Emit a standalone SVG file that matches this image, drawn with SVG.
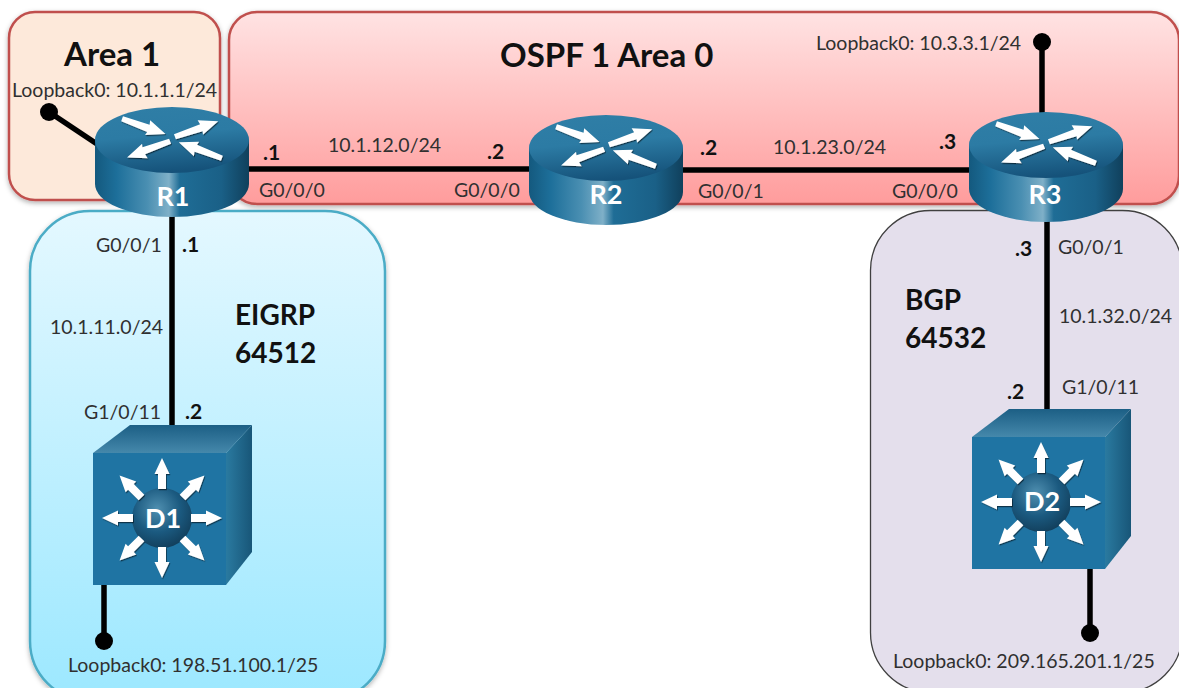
<svg xmlns="http://www.w3.org/2000/svg" xmlns:xlink="http://www.w3.org/1999/xlink" width="1179" height="688" viewBox="0 0 1179 688">
<style>
text{font-family:"Lato","Carlito","Open Sans",sans-serif;fill:#303030;font-size:19.5px}
.b{font-weight:700;fill:#111;font-size:21px}
.h{font-weight:700;font-size:33px;fill:#111}
.h2{font-weight:700;font-size:28px;fill:#111}
.d{fill:#fff;font-weight:700;font-size:27px;text-anchor:middle}
.w{stroke:#000;stroke-width:5.500;fill:none}
.dot{fill:#000}
.reg{stroke-width:2.500;filter:url(#sh)}
.ar{fill:#fff}
</style>
<defs>
<filter id="sh" x="-5%" y="-5%" width="110%" height="110%"><feDropShadow dx="0" dy="2" stdDeviation="2.500" flood-color="#000" flood-opacity=".3"/></filter>
<filter id="as" x="-20%" y="-20%" width="140%" height="140%"><feDropShadow dx=".8" dy="1.200" stdDeviation=".7" flood-color="#000" flood-opacity=".55"/></filter>
<linearGradient id="gO" x1="0" y1="0" x2="0" y2="1"><stop offset="0" stop-color="#ffe3e3"/><stop offset="1" stop-color="#ff9c9c"/></linearGradient>
<linearGradient id="gE" x1="0" y1="0" x2="0" y2="1"><stop offset="0" stop-color="#e4f8ff"/><stop offset="1" stop-color="#9ce8ff"/></linearGradient>
<linearGradient id="gB" x1="0" y1="0" x2="1" y2="0"><stop offset="0" stop-color="#14597e"/><stop offset=".14" stop-color="#1d6f9a"/><stop offset=".34" stop-color="#4a8fb2"/><stop offset=".48" stop-color="#7fb0c8"/><stop offset=".55" stop-color="#1f6d96"/><stop offset=".82" stop-color="#1a6087"/><stop offset="1" stop-color="#10405c"/></linearGradient>
<linearGradient id="gT" x1="0.2" y1="0" x2="0.4" y2="1"><stop offset="0" stop-color="#2f7ea6"/><stop offset=".45" stop-color="#2c7ba4"/><stop offset="1" stop-color="#15527a"/></linearGradient>
<linearGradient id="gC" x1="0" y1="0" x2="0" y2="1"><stop offset="0" stop-color="#1c5f85"/><stop offset="1" stop-color="#4588ab"/></linearGradient>
<linearGradient id="gS" x1="0" y1="0" x2="1" y2="0"><stop offset="0" stop-color="#2a7aa0"/><stop offset="1" stop-color="#185678"/></linearGradient>
<radialGradient id="gR" cx=".42" cy=".35" r=".7"><stop offset="0" stop-color="#4f8fb0"/><stop offset=".55" stop-color="#1b5a80"/><stop offset="1" stop-color="#113c58"/></radialGradient>
<polygon id="ra" class="ar" points="0,-3 28,-3.500 27,-8 46,0 27,7.500 28,4 0,2.500"/>
<polygon id="sa" class="ar" points="0,-4 15,-4 15,-7.500 31,0 15,7.500 15,4 0,4"/>
<g id="router">
<path d="M0,33V77A77,33 0 0 0 154,77V33Z" fill="url(#gB)"/>
<ellipse cx="77" cy="33" rx="77" ry="33" fill="url(#gT)"/>
<g filter="url(#as)">
<use href="#ra" transform="translate(27,12) rotate(19)"/>
<use href="#ra" transform="translate(80,30) rotate(-20)"/>
<use href="#ra" transform="translate(75,34) rotate(159)"/>
<use href="#ra" transform="translate(127,51) rotate(200)"/>
</g>
</g>
<g id="switch">
<polygon points="0,28 37,0 159,0 133,28" fill="url(#gC)"/>
<polygon points="133,28 159,0 159,127 133,160" fill="url(#gS)"/>
<rect x="0" y="28" width="133" height="132" fill="#1f74a3"/>
<circle cx="69" cy="93" r="30" fill="url(#gR)"/>
<g filter="url(#as)">
<use href="#sa" transform="translate(69,93) rotate(0) translate(29,0)"/>
<use href="#sa" transform="translate(69,93) rotate(45) translate(29,0)"/>
<use href="#sa" transform="translate(69,93) rotate(90) translate(29,0)"/>
<use href="#sa" transform="translate(69,93) rotate(135) translate(29,0)"/>
<use href="#sa" transform="translate(69,93) rotate(180) translate(29,0)"/>
<use href="#sa" transform="translate(69,93) rotate(225) translate(29,0)"/>
<use href="#sa" transform="translate(69,93) rotate(270) translate(29,0)"/>
<use href="#sa" transform="translate(69,93) rotate(315) translate(29,0)"/>
</g>
</g>
</defs>

<rect width="1179" height="688" fill="#fff"/>

<g id="regions">
<g id="area1"><rect class="reg" x="9" y="12" width="211" height="188" rx="26" fill="#fde9da" stroke="#c0504d"/><text class="h" x="64" y="66">Area 1</text></g>
<g id="ospf"><rect class="reg" x="229" y="12" width="950" height="192" rx="28" fill="url(#gO)" stroke="#c0504d"/><text class="h" x="500" y="67">OSPF 1 Area 0</text></g>
<g id="eigrp"><rect class="reg" x="30" y="211" width="355" height="490" rx="60" fill="url(#gE)" stroke="#4bacc6"/><text class="h2" x="235" y="325">EIGRP</text><text class="h2" x="235" y="363">64512</text></g>
<g id="bgp"><rect x="870.500" y="210.500" width="312" height="482" rx="60" fill="#e4dfec" stroke="#404040" stroke-width="1.300"/><text class="h2" x="905" y="310">BGP</text><text class="h2" x="905" y="348">64532</text></g>
</g>

<g id="connectors">
<line class="w" x1="49" y1="112" x2="97" y2="144"/>
<circle class="dot" cx="49" cy="112" r="9"/>
<line class="w" x1="248" y1="169" x2="529" y2="169"/>
<line class="w" x1="683" y1="170" x2="969" y2="170"/>
<line class="w" x1="172" y1="215" x2="172" y2="426"/>
<line class="w" x1="1042" y1="42" x2="1042" y2="114"/>
<circle class="dot" cx="1042" cy="42" r="9"/>
<line class="w" x1="1047" y1="219" x2="1047" y2="410"/>
<line class="w" x1="104" y1="584" x2="104" y2="641"/>
<circle class="dot" cx="104" cy="641" r="9"/>
<line class="w" x1="1090" y1="568" x2="1090" y2="633"/>
<circle class="dot" cx="1090" cy="633" r="9"/>
</g>

<g id="R1"><use href="#router" transform="translate(95,107)"/><text class="d" x="173" y="206">R1</text></g>
<g id="R2"><use href="#router" transform="translate(529,115)"/><text class="d" x="606" y="204">R2</text></g>
<g id="R3"><use href="#router" transform="translate(969,112)"/><text class="d" x="1045" y="204">R3</text></g>
<g id="D1"><use href="#switch" transform="translate(93,425)"/><text class="d" x="163" y="528">D1</text></g>
<g id="D2"><use href="#switch" transform="translate(972,409)"/><text class="d" x="1042" y="511">D2</text></g>

<g id="labels" transform="translate(0,1)">
<text x="12" y="96">Loopback0: 10.1.1.1/24</text>
<text x="816" y="49">Loopback0: 10.3.3.1/24</text>
<text x="68" y="671">Loopback0: 198.51.100.1/25</text>
<text x="893" y="667">Loopback0: 209.165.201.1/25</text>
<text x="328" y="151">10.1.12.0/24</text>
<text x="773" y="153">10.1.23.0/24</text>
<text x="50" y="333">10.1.11.0/24</text>
<text x="1059" y="322">10.1.32.0/24</text>
<text x="259" y="196">G0/0/0</text>
<text x="454" y="196">G0/0/0</text>
<text x="698" y="197">G0/0/1</text>
<text x="892" y="197">G0/0/0</text>
<text x="96" y="251">G0/0/1</text>
<text x="1058" y="253">G0/0/1</text>
<text x="84" y="418">G1/0/11</text>
<text x="1062" y="393">G1/0/11</text>
<text class="b" x="263" y="159">.1</text>
<text class="b" x="487" y="158">.2</text>
<text class="b" x="700" y="154">.2</text>
<text class="b" x="939" y="148">.3</text>
<text class="b" x="182" y="251">.1</text>
<text class="b" x="185" y="418">.2</text>
<text class="b" x="1015" y="255">.3</text>
<text class="b" x="1007" y="398">.2</text>
</g>
</svg>
